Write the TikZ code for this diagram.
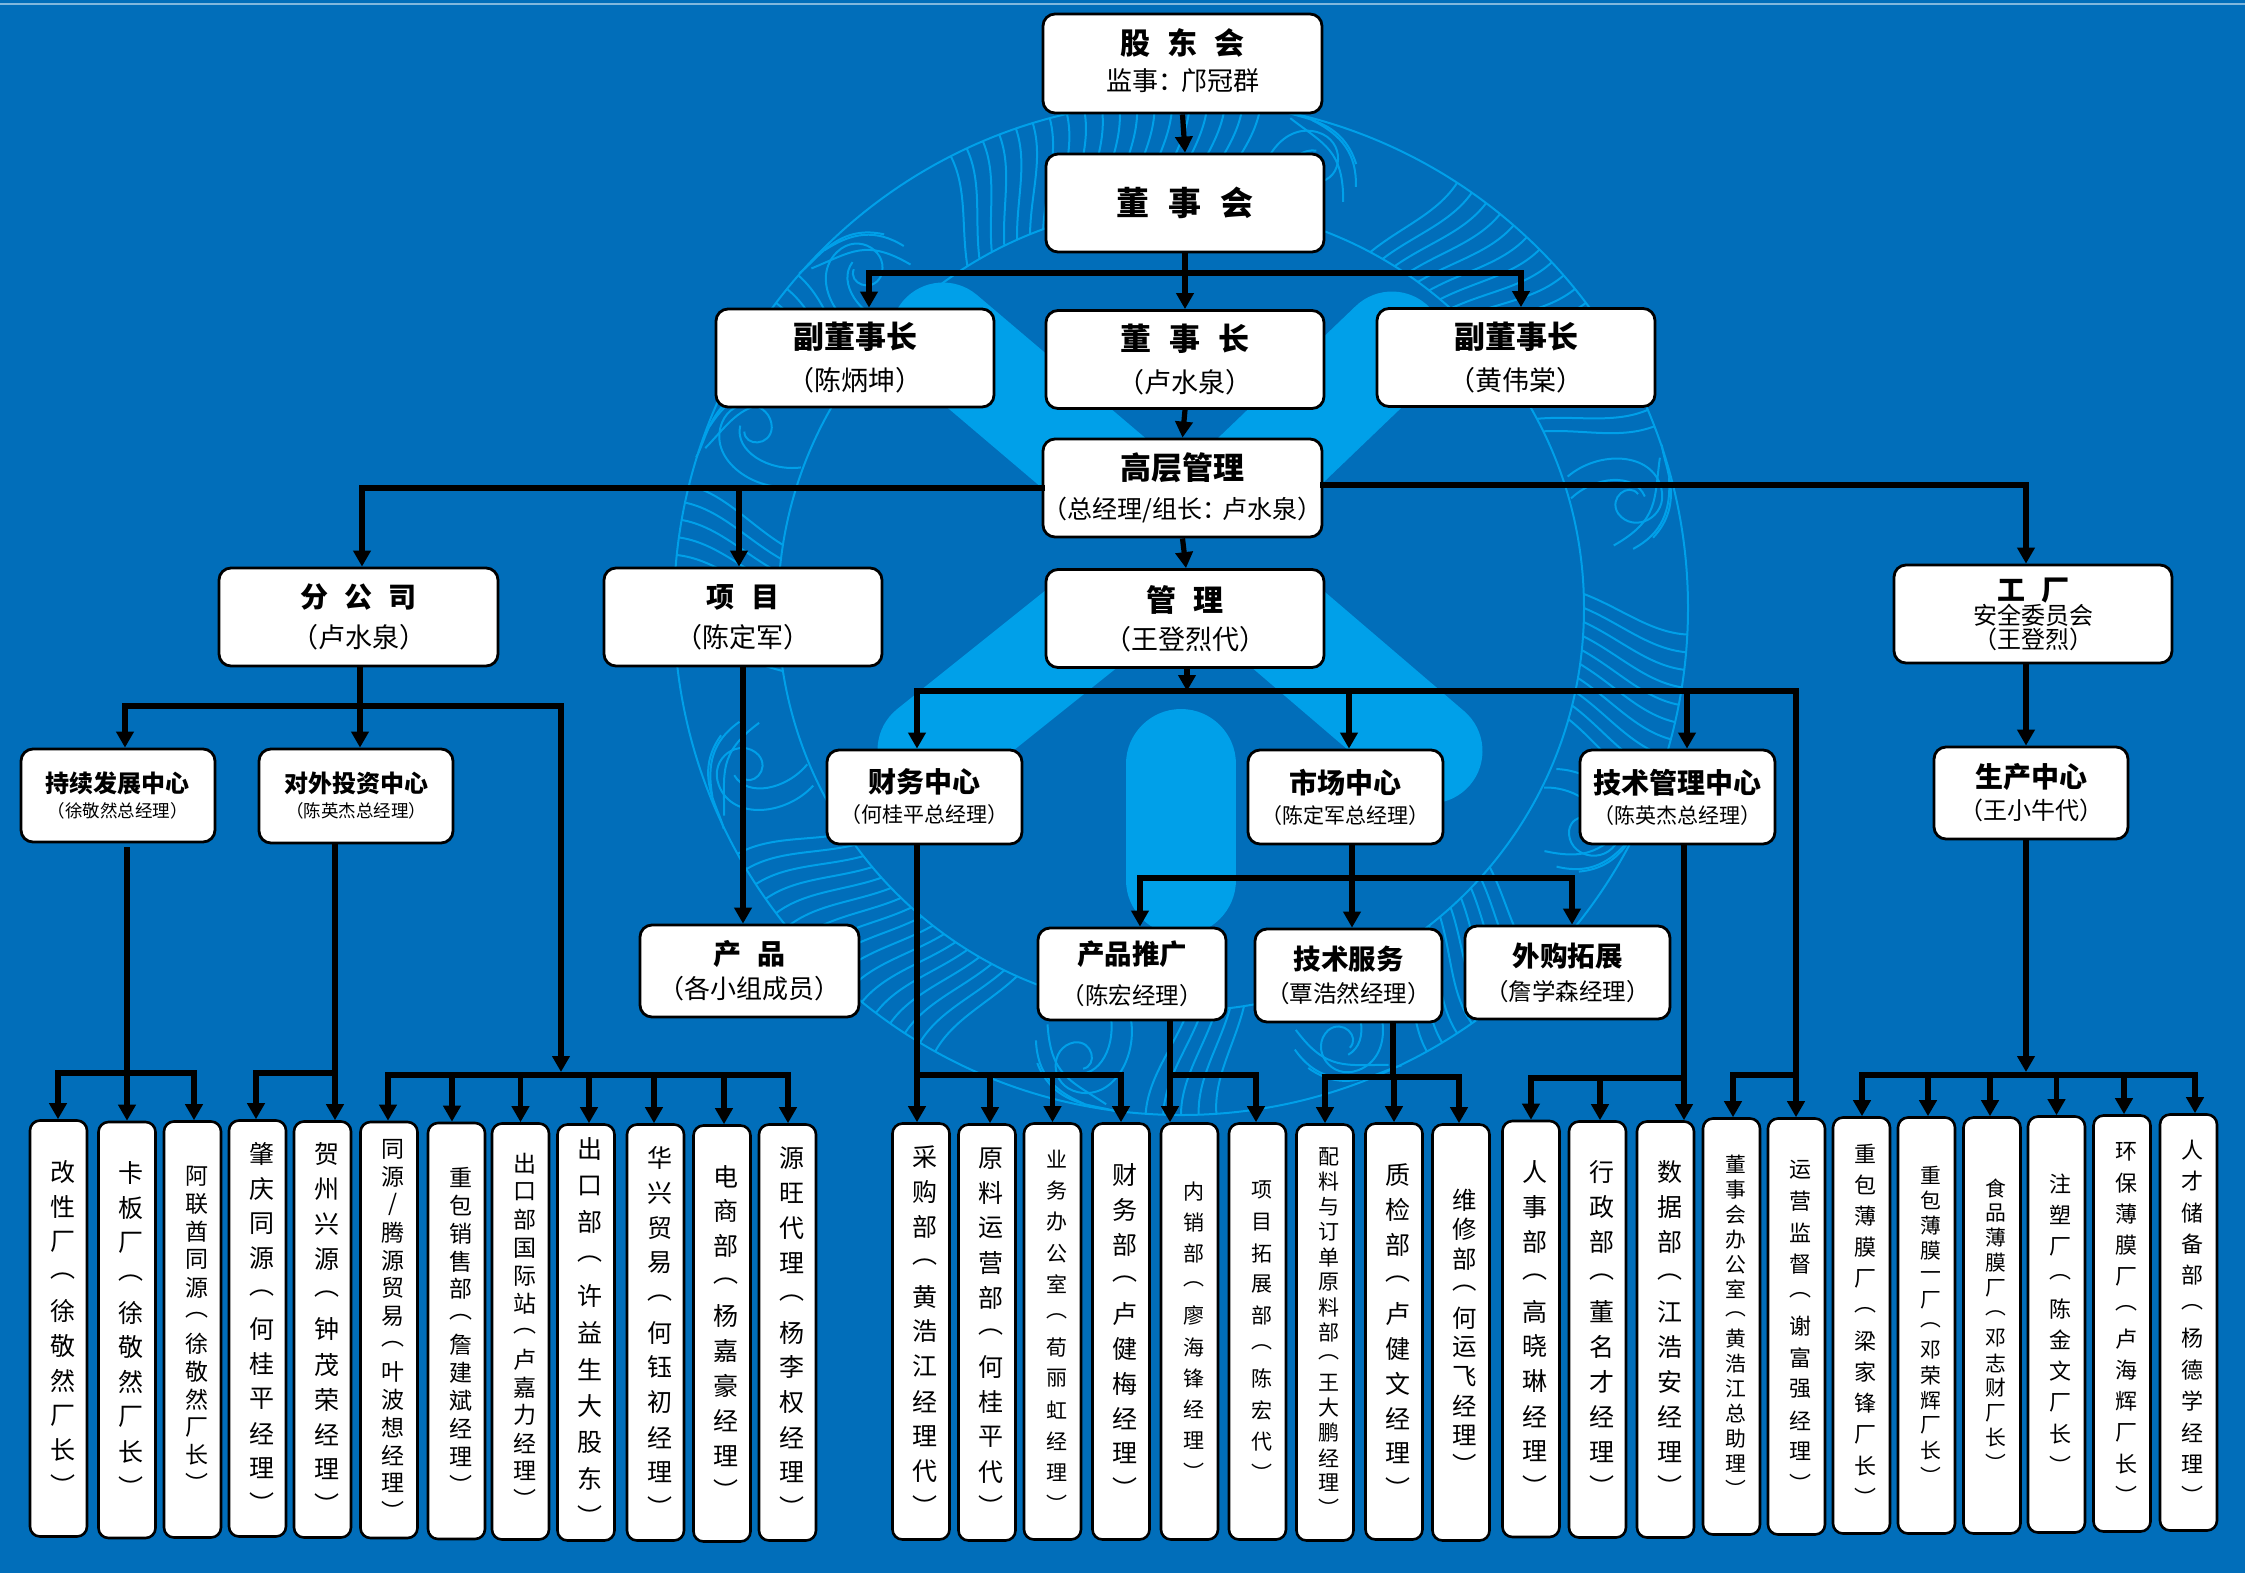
\documentclass[tikz,border=0pt]{standalone}
\usepackage{fontspec}
\setmainfont{Noto Sans CJK SC}[WordSpace=2.5,RawFeature=+halt]
\newfontfamily\stemfont[RawFeature=+vert]{Noto Sans CJK SC}
\usetikzlibrary{arrows.meta}
\definecolor{bgblue}{HTML}{016EBA}
\definecolor{logoblue}{HTML}{00A0E9}

% one character under the other, #1 is the size, #2 the pitch
\makeatletter
\newcommand{\vtext}[3][12.5]{\vbox{\offinterlineskip\stemfont\fontsize{#1}{#1}\selectfont
	\@tfor\vchar:=#3\do{\vbox to #2pt{\vss\hbox to 16pt{\hss\kern4pt\vchar\hss}\vss}}}}
\makeatother
\newcommand{\hd}[2]{{\fontsize{#1}{#1}\selectfont\bfseries #2}}
\newcommand{\sbt}[2]{{\fontsize{#1}{#1}\selectfont #2}}

\tikzset{
	orgbox/.style={draw=black,fill=white,line width=1.4pt,rounded corners=6pt,align=center,
		inner sep=0pt,font=\fontsize{12}{20}\selectfont},
	stembox/.style={draw=black,fill=white,line width=1.3pt,rounded corners=5pt,
		inner sep=0pt,minimum width=28.5pt,minimum height=208pt},
	feed/.style={line width=2.6pt,-{Triangle[length=8pt,width=8.5pt]}},
	plainfeed/.style={line width=2.6pt},
	bus/.style={line width=3pt,line cap=rect},
	ringline/.style={draw=logoblue,line width=1pt},
	armline/.style={draw=logoblue,line width=52.5pt,line cap=round}
}

\begin{document}
\begin{tikzpicture}[x=0.5pt,y=-0.5pt]
	\useasboundingbox (0,0) rectangle (2245,1576);
	\fill[bgblue] (0,0) rectangle (2245,1573);
	\draw[white!50!bgblue,line width=1pt] (0,3.5) -- (2245,3.5);

	% logo behind the chart
	\begin{scope}
		\clip (0,0) rectangle (2245,520);
		\draw[armline] (943,335) -- (1235,583);
		\draw[armline] (1392,344) -- (1127,598);
	\end{scope}
	\begin{scope}
		\clip (0,575) rectangle (2245,1576);
		\draw[armline] (930,750) -- (1180,550);
		\draw[armline] (1430,751) -- (1180,537);
	\end{scope}
	\draw[draw=logoblue,line width=55pt,line cap=round] (1181,764) -- (1181,880);

	\begin{scope}[shift={(1181,608)}]
		\draw[ringline] (0,0) circle[radius=507];
		\draw[ringline] (0,0) circle[radius=403];
		\foreach \a in {-122,-120,...,-86,-62,-60,...,-26,-2,0,...,16,40,42,...,57,81,83,...,90,114,116,...,147,171,173,...,190,212,214,216}{
			\draw[ringline] (\a:403) .. controls ({\a+2}:440) and ({\a+5}:470) .. ({\a+5}:507);
		}
		\foreach \a in {-134,-74,-14,28,69,102,159,202}{
			\begin{scope}[shift={(\a:455)},rotate=-\a]
				\draw[ringline] (-48,-34) .. controls (-12,-52) and (40,-38) .. (40,0) .. controls (40,30) and (2,38) .. (-8,14) .. controls (-14,-4) and (10,-14) .. (16,0);
				\draw[ringline] (-50,-12) .. controls (-22,-28) and (18,-22) .. (22,4);
				\draw[ringline] (46,-30) .. controls (30,10) and (30,30) .. (-20,44);
				\draw[ringline] (50,-8) .. controls (44,24) and (30,44) .. (-2,52);
				\draw[ringline] (51,-42) .. controls (48,-20) and (60,20) .. (20,46);
			\end{scope}
		}
	\end{scope}

	% top of the chart
	\node[orgbox,minimum width=139.5pt,minimum height=49.5pt] at (1182.5,63.5) (gudong) {\hd{15}{股 东 会}\\[-2pt]\sbt{13}{监事：\hspace{5pt}邝冠群}\rule[-3.5pt]{0pt}{1pt}};
	\node[orgbox,minimum width=139pt,minimum height=49pt] at (1185,203) (dongshihui) {\hd{16.5}{董 事 会}};
	\node[orgbox,minimum width=139pt,minimum height=49pt] at (855,358) (fudong1) {\hd{15.5}{副董事长}\\[1pt]\sbt{13.5}{（陈炳坤）}};
	\node[orgbox,minimum width=139pt,minimum height=49pt] at (1185,359.5) (dongshizhang) {\hd{15.5}{董 事 长}\\[1pt]\sbt{13.5}{（卢水泉）}};
	\node[orgbox,minimum width=139pt,minimum height=49pt] at (1516,357.5) (fudong2) {\hd{15.5}{副董事长}\\[1pt]\sbt{13.5}{（黄伟棠）}};
	\node[orgbox,minimum width=139.5pt,minimum height=49pt] at (1182.5,488) (gaoceng) {\hd{15.5}{高层管理}\\[-0.5pt]\sbt{12.5}{（总经理/组长：\hspace{4pt}卢水泉）}};

	% second row
	\node[orgbox,minimum width=139.5pt,minimum height=49pt] at (358.5,617) (fengongsi) {\hd{14}{分 公 司}\\[0pt]\sbt{13.5}{（卢水泉）}};
	\node[orgbox,minimum width=139pt,minimum height=49pt] at (743,617) (xiangmu) {\hd{14}{项 目}\\[0pt]\sbt{13.5}{（陈定军）}};
	\node[orgbox,minimum width=139pt,minimum height=49pt] at (1185,618.5) (guanli) {\hd{15}{管 理}\\[-1pt]\sbt{13.5}{（王登烈代）}};
	\node[orgbox,minimum width=139pt,minimum height=49pt] at (2033,614) (gongchang) {\hd{14}{工 厂}\\[-8pt]\sbt{12}{安全委员会}\\[-8pt]\sbt{12}{（王登烈）}};

	% centres
	\node[orgbox,minimum width=97pt,minimum height=46.5pt] at (118,795.5) (chixu) {\hd{12}{持续发展中心}\\[-7.5pt]\sbt{8.75}{（徐敬然总经理）}};
	\node[orgbox,minimum width=97pt,minimum height=47pt] at (356,796) (duiwai) {\hd{12}{对外投资中心}\\[-7.5pt]\sbt{8.75}{（陈英杰总经理）}};
	\node[orgbox,minimum width=97.5pt,minimum height=47pt] at (924.5,797) (caiwu) {\hd{14}{财务中心}\\[-5pt]\sbt{10.5}{（何桂平总经理）}};
	\node[orgbox,minimum width=97.5pt,minimum height=47pt] at (1345.5,797) (shichang) {\hd{14}{市场中心}\\[-5pt]\sbt{10.5}{（陈定军总经理）}};
	\node[orgbox,minimum width=97.5pt,minimum height=47pt] at (1677.5,797) (jishu) {\hd{14}{技术管理中心}\\[-5pt]\sbt{10.5}{（陈英杰总经理）}};
	\node[orgbox,minimum width=97pt,minimum height=46pt] at (2031,793) (shengchan) {\hd{14}{生产中心}\\[-4pt]\sbt{12}{（王小牛代）}};

	\node[orgbox,minimum width=109.5pt,minimum height=46pt] at (749.5,971) (chanpin) {\hd{14}{产 品}\\[-3pt]\sbt{13}{（各小组成员）}};
	\node[orgbox,minimum width=94pt,minimum height=46pt] at (1132,974) (tuiguang) {\hd{13.75}{产品推广}\\[0pt]\sbt{11.75}{（陈宏经理）}};
	\node[orgbox,minimum width=93.5pt,minimum height=46.5pt] at (1348.5,975.5) (fuwu) {\hd{13.75}{技术服务}\\[-3.5pt]\sbt{11.75}{（覃浩然经理）}};
	\node[orgbox,minimum width=102.5pt,minimum height=46.5pt] at (1567.5,972.5) (waigou) {\hd{13.75}{外购拓展}\\[-3pt]\sbt{11.75}{（詹学森经理）}};

	% bottom row
	\node[stembox] at (58.5,1328.5) (gaixing) {\vtext{17.4}{改性厂（徐敬然厂长）}};
	\node[stembox] at (127,1330) (kaban) {\vtext{17.4}{卡板厂（徐敬然厂长）}};
	\node[stembox] at (192.5,1329.5) (alian) {\vtext[11.5]{13.95}{阿联酋同源（徐敬然厂长）}};
	\node[stembox] at (257.5,1328.5) (zhaoqing) {\vtext{17.5}{肇庆同源（何桂平经理）}};
	\node[stembox] at (322.5,1329.5) (hezhou) {\vtext{17.5}{贺州兴源（钟茂荣经理）}};
	\node[stembox] at (389,1330) (tongyuan) {\vtext[11.5]{13.9}{同源/腾源贸易（叶波想经理）}};
	\node[stembox] at (456.5,1331) (zhongbao) {\vtext[11.5]{13.95}{重包销售部（詹建斌经理）}};
	\node[stembox] at (520.5,1331.5) (guoji) {\vtext[11.5]{13.95}{出口部国际站（卢嘉力经理）}};
	\node[stembox] at (586,1332.5) (chukou) {\vtext{18.35}{出口部（许益生大股东）}};
	\node[stembox] at (655.5,1332.5) (huaxing) {\vtext{17.45}{华兴贸易（何钰初经理）}};
	\node[stembox] at (722,1333.5) (dianshang) {\vtext{17.45}{电商部（杨嘉豪经理）}};
	\node[stembox] at (787.5,1332.5) (yuanwang) {\vtext{17.45}{源旺代理（杨李权经理）}};

	\node[stembox] at (921,1331.5) (caigou) {\vtext{17.45}{采购部（黄浩江经理代）}};
	\node[stembox] at (987,1332.5) (yuanliao) {\vtext{17.4}{原料运营部（何桂平代）}};
	\node[stembox] at (1052.5,1331.5) (yewu) {\vtext[10.5]{15.65}{业务办公室（荀丽虹经理）}};
	\node[stembox] at (1121,1331.5) (caiwubu) {\vtext{17.4}{财务部（卢健梅经理）}};
	\node[stembox] at (1189.5,1331.5) (neixiao) {\vtext[10.5]{15.6}{内销部（廖海锋经理）}};
	\node[stembox] at (1257.5,1331.5) (tuozhan) {\vtext[10.5]{15.7}{项目拓展部（陈宏代）}};
	\node[stembox] at (1325,1332.5) (peiliao) {\vtext[10.5]{12.55}{配料与订单原料部（王大鹏经理）}};
	\node[stembox] at (1394,1331.5) (zhijian) {\vtext{17.4}{质检部（卢健文经理）}};
	\node[stembox] at (1461,1332.5) (weixiu) {\vtext[12.2]{14.7}{维修部（何运飞经理）}};
	\node[stembox] at (1531,1329) (renshi) {\vtext{17.45}{人事部（高晓琳经理）}};
	\node[stembox] at (1597.5,1329.5) (xingzheng) {\vtext{17.45}{行政部（董名才经理）}};
	\node[stembox] at (1665.5,1329.5) (shuju) {\vtext{17.45}{数据部（江浩安经理）}};
	\node[stembox] at (1731.5,1326.5) (dongban) {\vtext[10.4]{12.45}{董事会办公室（黄浩江总助理）}};
	\node[stembox] at (1796.5,1326.5) (yunying) {\vtext[11]{15.65}{运营监督（谢富强经理）}};
	\node[stembox] at (1861.5,1325.5) (bomo) {\vtext[11]{15.6}{重包薄膜厂（梁家锋厂长）}};
	\node[stembox] at (1926.5,1325.5) (bomoyi) {\vtext[10.4]{12.5}{重包薄膜一厂（邓荣辉厂长）}};
	\node[stembox] at (1992,1325.5) (shipin) {\vtext[10.4]{12.5}{食品薄膜厂（邓志财厂长）}};
	\node[stembox] at (2056.5,1324.5) (zhusu) {\vtext[11]{15.6}{注塑厂（陈金文厂长）}};
	\node[stembox] at (2122,1323.5) (huanbao) {\vtext[11]{15.6}{环保薄膜厂（卢海辉厂长）}};
	\node[stembox] at (2188.5,1322.5) (rencai) {\vtext[11]{15.7}{人才储备部（杨德学经理）}};

	% bus ends
	\coordinate (topbusl) at (869,273);
	\coordinate (topbusr) at (1521,273);
	\coordinate (leftbus) at (362,488);
	\coordinate (rightbus) at (2026,485);
	\coordinate (midbusl) at (917,691);
	\coordinate (midbusr) at (1796,691);
	\coordinate (marketbusl) at (1140,878);
	\coordinate (marketbusr) at (1572,878);
	\coordinate (branchbusl) at (125,706);
	\coordinate (branchbusr) at (561,706);

	\coordinate (chixuend) at (127,847);
	\coordinate (holdbusl) at (58,1073);
	\coordinate (holdbusr) at (194,1073);
	\coordinate (investbusl) at (256,1073);
	\coordinate (investbusr) at (335,1073);
	\coordinate (groupbusl) at (388,1075);
	\coordinate (groupbusr) at (788,1075);
	\coordinate (groupin) at (561,1072);
	\coordinate (financebusl) at (917,1075);
	\coordinate (financebusr) at (1121,1075);
	\coordinate (promobusl) at (1170,1075);
	\coordinate (promobusr) at (1256,1075);
	\coordinate (servicebusl) at (1325,1077);
	\coordinate (servicebusr) at (1459,1077);
	\coordinate (techbusl) at (1531,1078);
	\coordinate (techbusr) at (1684,1078);
	\coordinate (officebusl) at (1733,1075);
	\coordinate (officebusr) at (1796,1075);
	\coordinate (plantbusl) at (1862,1075);
	\coordinate (plantbusr) at (2195,1075);
	\coordinate (plantin) at (2026,1072);

	% upper connectors
	\draw[feed] (gudong.south) -- (dongshihui.north);
	\draw[bus] (topbusl) -- (topbusr);
	\draw[feed] (dongshihui.south) -- (dongshizhang.north);
	\draw[feed] ([xshift=7pt]fudong1.north |- topbusl) -- ([xshift=7pt]fudong1.north);
	\draw[feed] ([xshift=2.5pt]fudong2.north |- topbusr) -- ([xshift=2.5pt]fudong2.north);
	\draw[feed] (dongshizhang.south) -- (gaoceng.north);
	\draw[feed] (gaoceng.south) -- ([xshift=0.5pt]guanli.north);

	\draw[bus] (gaoceng.west |- leftbus) -- (leftbus);
	\draw[feed] (leftbus) -- (leftbus |- fengongsi.north);
	\draw[feed] ([xshift=-2pt]xiangmu.north |- leftbus) -- ([xshift=-2pt]xiangmu.north);
	\draw[bus] (gaoceng.east |- rightbus) -- (rightbus);
	\draw[feed] (rightbus) -- (rightbus |- gongchang.north);

	% management
	\draw[feed] ([xshift=1pt]guanli.south) -- ([xshift=1pt]guanli.south |- midbusl);
	\draw[bus] (midbusl) -- (midbusr);
	\draw[feed] (midbusl) -- (midbusl |- caiwu.north);
	\draw[feed] ([xshift=1.75pt]shichang.north |- midbusl) -- ([xshift=1.75pt]shichang.north);
	\draw[feed] ([xshift=4.75pt]jishu.north |- midbusl) -- ([xshift=4.75pt]jishu.north);
	\draw[plainfeed] (midbusr) -- (officebusr);
	\draw[bus] (officebusl) -- (officebusr);
	\draw[feed] (officebusl) -- (officebusl |- dongban.north);
	\draw[feed] (officebusr) -- (officebusr |- yunying.north);

	\draw[plainfeed] (financebusl |- caiwu.south) -- (financebusl);
	\draw[bus] (financebusl) -- (financebusr);
	\draw[feed] (financebusl) -- (financebusl |- caigou.north);
	\draw[feed] ([xshift=1.5pt]yuanliao.north |- financebusl) -- ([xshift=1.5pt]yuanliao.north);
	\draw[feed] (yewu.north |- financebusl) -- (yewu.north);
	\draw[feed] (financebusr) -- (financebusr |- caiwubu.north);

	\draw[plainfeed] ([xshift=3.25pt]shichang.south) -- ([xshift=3.25pt]shichang.south |- marketbusl);
	\draw[bus] (marketbusl) -- (marketbusr);
	\draw[feed] (marketbusl) -- (marketbusl |- tuiguang.north);
	\draw[feed] ([xshift=1.75pt]fuwu.north |- marketbusl) -- ([xshift=1.75pt]fuwu.north);
	\draw[feed] (marketbusr) -- (marketbusr |- waigou.north);

	\draw[plainfeed] (promobusl |- tuiguang.south) -- (promobusl);
	\draw[bus] (promobusl) -- (promobusr);
	\draw[feed] (promobusl) -- (promobusl |- neixiao.north);
	\draw[feed] (promobusr) -- (promobusr |- tuozhan.north);

	\draw[plainfeed] ([xshift=22.25pt]fuwu.south) -- ([xshift=22.25pt]fuwu.south |- servicebusl);
	\draw[bus] (servicebusl) -- (servicebusr);
	\draw[feed] (servicebusl) -- (servicebusl |- peiliao.north);
	\draw[feed] (zhijian.north |- servicebusl) -- (zhijian.north);
	\draw[feed] (servicebusr) -- (servicebusr |- weixiu.north);

	\draw[plainfeed] (techbusr |- jishu.south) -- (techbusr);
	\draw[bus] (techbusl) -- (techbusr);
	\draw[feed] (techbusl) -- (techbusl |- renshi.north);
	\draw[feed] ([xshift=1.25pt]xingzheng.north |- techbusl) -- ([xshift=1.25pt]xingzheng.north);
	\draw[feed] (techbusr) -- (techbusr |- shuju.north);

	% branch side
	\draw[plainfeed] ([xshift=0.75pt]fengongsi.south) -- ([xshift=0.75pt]fengongsi.south |- branchbusl);
	\draw[bus] (branchbusl) -- (branchbusr);
	\draw[feed] (branchbusl) -- (branchbusl |- chixu.north);
	\draw[feed] ([xshift=2pt]duiwai.north |- branchbusl) -- ([xshift=2pt]duiwai.north);
	\draw[feed] (branchbusr) -- (groupin);

	\draw[plainfeed] (chixuend) -- (chixuend |- holdbusl);
	\draw[bus] (holdbusl) -- (holdbusr);
	\draw[feed] (holdbusl) -- (holdbusl |- gaixing.north);
	\draw[feed] (kaban.north |- holdbusl) -- (kaban.north);
	\draw[feed] (holdbusr) -- (holdbusr |- alian.north);

	\draw[plainfeed] (investbusr |- duiwai.south) -- (investbusr);
	\draw[bus] (investbusl) -- (investbusr);
	\draw[feed] (investbusl) -- (investbusl |- zhaoqing.north);
	\draw[feed] (investbusr) -- (investbusr |- hezhou.north);

	\draw[bus] (groupbusl) -- (groupbusr);
	\draw[feed] (groupbusl) -- (groupbusl |- tongyuan.north);
	\draw[feed] ([xshift=-2.25pt]zhongbao.north |- groupbusl) -- ([xshift=-2.25pt]zhongbao.north);
	\draw[feed] (guoji.north |- groupbusl) -- (guoji.north);
	\draw[feed] ([xshift=1.5pt]chukou.north |- groupbusl) -- ([xshift=1.5pt]chukou.north);
	\draw[feed] ([xshift=-0.75pt]huaxing.north |- groupbusl) -- ([xshift=-0.75pt]huaxing.north);
	\draw[feed] ([xshift=1pt]dianshang.north |- groupbusl) -- ([xshift=1pt]dianshang.north);
	\draw[feed] (groupbusr) -- (groupbusr |- yuanwang.north);

	\draw[feed] (xiangmu.south) -- (xiangmu.south |- chanpin.north);

	% factory side
	\draw[feed] (rightbus |- gongchang.south) -- (rightbus |- shengchan.north);
	\draw[feed] (plantin |- shengchan.south) -- (plantin);
	\draw[bus] (plantbusl) -- (plantbusr);
	\draw[feed] (plantbusl) -- (plantbusl |- bomo.north);
	\draw[feed] ([xshift=0.75pt]bomoyi.north |- plantbusl) -- ([xshift=0.75pt]bomoyi.north);
	\draw[feed] ([xshift=-1pt]shipin.north |- plantbusl) -- ([xshift=-1pt]shipin.north);
	\draw[feed] (zhusu.north |- plantbusl) -- (zhusu.north);
	\draw[feed] ([xshift=1pt]huanbao.north |- plantbusl) -- ([xshift=1pt]huanbao.north);
	\draw[feed] (plantbusr) -- (plantbusr |- rencai.north);
\end{tikzpicture}
\end{document}
